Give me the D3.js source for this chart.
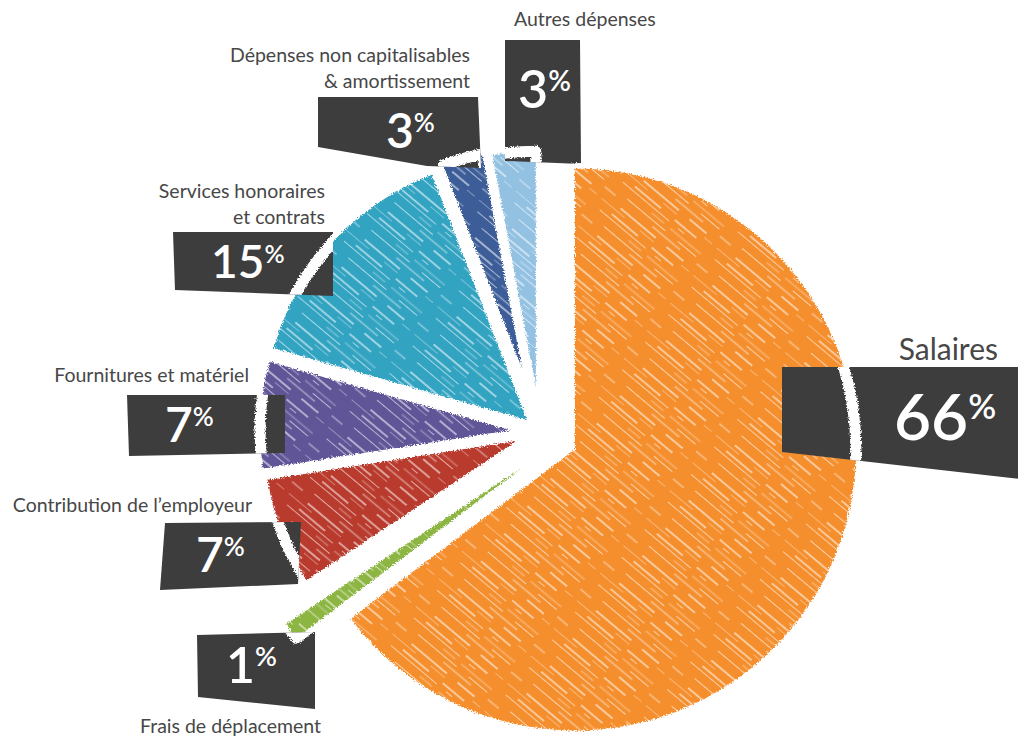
<!DOCTYPE html>
<html>
<head>
<meta charset="utf-8">
<script src="https://cdn.jsdelivr.net/npm/d3@7"></script>
<style>
  html, body { margin: 0; padding: 0; background: #fff; }
  svg { display: block; }
</style>
</head>
<body>
<div id="chart"></div>
<script>
// données du graphique
const categories = [
  "Salaires",
  "Frais de déplacement",
  "Contribution de l’employeur",
  "Fournitures et matériel",
  "Services honoraires et contrats",
  "Dépenses non capitalisables & amortissement",
  "Autres dépenses"
];
const values = [66, 1, 7, 7, 15, 3, 3];
const labelLines = [
  ["Salaires"],
  ["Frais de déplacement"],
  ["Contribution de l’employeur"],
  ["Fournitures et matériel"],
  ["Services honoraires", "et contrats"],
  ["Dépenses non capitalisables", "& amortissement"],
  ["Autres dépenses"]
];
const colors = ["#f58f2d", "#8cb543", "#b93b2f", "#5f5597", "#30a3c1", "#3d5d98", "#93c1e2"];

// mise en page (décalage des parts, rayons, étiquettes)
const width = 1018, height = 742;
const center = { x: 540, y: 432 };
const sliceStyle = [
  { explode: 39, r: 281 },
  { explode: 39, angle: 206, r: 284 },
  { explode: 25, r: 252 },
  { explode: 30, r: 250 },
  { explode: 18, r: 263 },
  { explode: 66, r: 218 },
  { explode: 45, r: 236 }
];
const boxes = [
  [[782, 367], [1030, 367], [1030, 480], [782, 452]],
  [[197, 635], [315, 632], [315, 709], [198, 697]],
  [[165, 523], [301, 522], [298, 584], [160, 590]],
  [[127, 395], [285, 395], [285, 453], [129, 456]],
  [[173, 232], [333, 232], [333, 296], [175, 290]],
  [[318, 97], [478, 97], [481, 168], [427, 166], [318, 147]],
  [[505, 40], [580, 40], [581, 164], [505, 161]]
];
const pctPos = [
  { x: 894, y: 440, size: 64 },
  { x: 226, y: 683, size: 50 },
  { x: 196, y: 572, size: 48 },
  { x: 165, y: 442, size: 48 },
  { x: 211, y: 278, size: 46 },
  { x: 386, y: 148, size: 48 },
  { x: 518, y: 108, size: 52 }
];
const labelPos = [
  { x: 998, y: 360, anchor: "end", size: 30 },
  { x: 140, y: 733, anchor: "start", size: 19.5 },
  { x: 252, y: 512, anchor: "end", size: 19.5 },
  { x: 249, y: 382, anchor: "end", size: 19.5 },
  { x: 325, y: 198, anchor: "end", size: 19.5 },
  { x: 470, y: 62, anchor: "end", size: 19.5 },
  { x: 514, y: 26, anchor: "start", size: 19.5 }
];

const svg = d3.select("#chart").append("svg")
  .attr("width", width)
  .attr("height", height)
  .attr("viewBox", `0 0 ${width} ${height}`);

const defs = svg.append("defs");

// texture « crayonnée » : traits blancs en biais, décalés pour éviter les raccords visibles
const hatch = defs.append("pattern")
  .attr("id", "hatch")
  .attr("patternUnits", "userSpaceOnUse")
  .attr("width", 120)
  .attr("height", 36)
  .attr("patternTransform", "rotate(40)");
[
  { y: 2, w: 1.6, o: 0.7, dash: "46 14 22 38", off: 0 },
  { y: 6.5, w: 1.0, o: 0.35, dash: "10 6 30 20 18 36", off: 37 },
  { y: 12, w: 2.0, o: 0.5, dash: "28 40 34 18", off: 71 },
  { y: 16.5, w: 1.2, o: 0.55, dash: "60 12 8 40", off: 15 },
  { y: 21.5, w: 1.6, o: 0.3, dash: "16 8 40 56", off: 93 },
  { y: 26.5, w: 1.0, o: 0.6, dash: "24 30 50 16", off: 55 },
  { y: 31.5, w: 1.4, o: 0.45, dash: "36 22 14 48", off: 84 }
].forEach(l => {
  hatch.append("line")
    .attr("x1", 0).attr("x2", 120)
    .attr("y1", l.y).attr("y2", l.y)
    .attr("stroke", "#fff")
    .attr("stroke-width", l.w)
    .attr("stroke-opacity", l.o)
    .attr("stroke-dasharray", l.dash)
    .attr("stroke-dashoffset", l.off);
});

const rough = defs.append("filter").attr("id", "rough")
  .attr("x", "-10%").attr("y", "-10%").attr("width", "120%").attr("height", "120%");
rough.append("feTurbulence")
  .attr("type", "fractalNoise")
  .attr("baseFrequency", 0.7)
  .attr("numOctaves", 2)
  .attr("result", "noise");
rough.append("feDisplacementMap")
  .attr("in", "SourceGraphic")
  .attr("in2", "noise")
  .attr("scale", 5)
  .attr("xChannelSelector", "R")
  .attr("yChannelSelector", "G");

const clip = defs.append("clipPath").attr("id", "boxclip");
clip.selectAll("polygon")
  .data(boxes)
  .join("polygon")
  .attr("points", d => d.map(p => p.join(",")).join(" "));

// parts du camembert
const pie = d3.pie().sort(null).value(d => d).startAngle(0).endAngle(2 * Math.PI);
const arcs = pie(values).map((a, i) => {
  const s = sliceStyle[i];
  const ang = s.angle !== undefined ? s.angle * Math.PI / 180 : (a.startAngle + a.endAngle) / 2;
  return {
    ...a,
    i,
    tx: center.x + s.explode * Math.sin(ang),
    ty: center.y - s.explode * Math.cos(ang),
    path: d3.arc().innerRadius(0).outerRadius(s.r)(a)
  };
});

const sliceFill = svg.append("g").attr("class", "slices").attr("filter", "url(#rough)");
sliceFill.selectAll("path")
  .data(arcs)
  .join("path")
  .attr("transform", d => `translate(${d.tx},${d.ty})`)
  .attr("d", d => d.path)
  .attr("fill", d => colors[d.i]);

// stries blanches par-dessus
svg.append("g").attr("class", "hatching")
  .selectAll("path")
  .data(arcs)
  .join("path")
  .attr("transform", d => `translate(${d.tx},${d.ty})`)
  .attr("d", d => d.path)
  .attr("fill", "url(#hatch)");

// cadres sombres
svg.append("g").attr("class", "boxes")
  .selectAll("polygon")
  .data(boxes)
  .join("polygon")
  .attr("points", d => d.map(p => p.join(",")).join(" "))
  .attr("fill", "#3d3d3e");

// contour blanc des parts, visible seulement sur les cadres
svg.append("g")
  .attr("clip-path", "url(#boxclip)")
  .append("g")
  .attr("filter", "url(#rough)")
  .selectAll("path")
  .data(arcs)
  .join("path")
  .attr("transform", d => `translate(${d.tx},${d.ty})`)
  .attr("d", d => d.path)
  .attr("fill", "none")
  .attr("stroke", "#fff")
  .attr("stroke-width", 11)
  .attr("stroke-linejoin", "round");

// pourcentages
const pct = svg.append("g").attr("class", "pct")
  .selectAll("text")
  .data(values)
  .join("text")
  .attr("x", (d, i) => pctPos[i].x)
  .attr("y", (d, i) => pctPos[i].y)
  .attr("fill", "#fff")
  .style("font-family", "Lato, 'Open Sans', sans-serif")
  .style("font-weight", 600);
pct.append("tspan")
  .attr("font-size", (d, i) => pctPos[i].size)
  .text(d => d);
pct.append("tspan")
  .attr("font-size", (d, i) => pctPos[i].size * 0.54)
  .attr("dy", (d, i) => -(pctPos[i].size * 0.46 * 0.72))
  .text("%");

// libellés
svg.append("g").attr("class", "labels")
  .selectAll("text")
  .data(labelLines)
  .join("text")
  .attr("x", (d, i) => labelPos[i].x)
  .attr("y", (d, i) => labelPos[i].y)
  .attr("text-anchor", (d, i) => labelPos[i].anchor)
  .attr("font-size", (d, i) => labelPos[i].size)
  .attr("fill", "#474747")
  .style("font-family", "Lato, 'Open Sans', sans-serif")
  .each(function (lines, i) {
    d3.select(this).selectAll("tspan")
      .data(lines)
      .join("tspan")
      .attr("x", labelPos[i].x)
      .attr("dy", (l, k) => k === 0 ? 0 : 26)
      .text(l => l);
  });
</script>
</body>
</html>
